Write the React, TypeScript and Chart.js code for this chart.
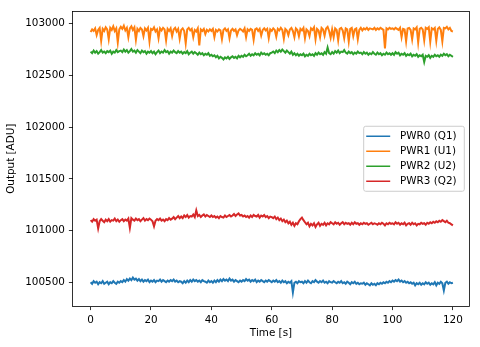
import React, { useEffect, useRef } from "react";
import { Chart, registerables } from "chart.js";

Chart.register(...registerables);

// ---- data ----
const TIME_STEP = 0.5; // seconds between samples, starting at t = 0
const SERIES_LABELS = ["PWR0 (Q1)", "PWR1 (U1)", "PWR2 (U2)", "PWR3 (Q2)"];
const SERIES_COLORS = ["#1f77b4", "#ff7f0e", "#2ca02c", "#d62728"];
const X_TICKS = [0, 20, 40, 60, 80, 100, 120];
const Y_TICKS = [100500, 101000, 101500, 102000, 102500, 103000];
const X_LABEL = "Time [s]";
const Y_LABEL = "Output [ADU]";

const PWR0 = [
  100500, 100485, 100510, 100495, 100505, 100480, 100500, 100490, 100510, 100485, 100495, 100505, 100480, 100500, 100490, 100510, 100495, 100485, 100505, 100495,
  100510, 100500, 100520, 100505, 100530, 100515, 100535, 100520, 100545, 100525, 100535, 100515, 100530, 100510, 100525, 100505, 100520, 100510, 100525, 100500,
  100515, 100505, 100520, 100500, 100515, 100510, 100525, 100505, 100520, 100510, 100500, 100515, 100505, 100520, 100510, 100525, 100505, 100515, 100500, 100510,
  100505, 100490, 100510, 100495, 100515, 100500, 100520, 100505, 100525, 100510, 100520, 100505, 100515, 100500, 100520, 100510, 100505, 100495, 100515, 100500,
  100510, 100495, 100515, 100500, 100520, 100505, 100525, 100510, 100530, 100515, 100525, 100510, 100535, 100515, 100525, 100505, 100520, 100510, 100500, 100515,
  100505, 100520, 100510, 100530, 100515, 100525, 100505, 100520, 100510, 100525, 100500, 100515, 100505, 100520, 100510, 100500, 100515, 100505, 100520, 100510,
  100500, 100515, 100505, 100520, 100500, 100510, 100495, 100515, 100500, 100510, 100490, 100505, 100495, 100510, 100400, 100495, 100505, 100490, 100510, 100500,
  100505, 100490, 100510, 100495, 100515, 100500, 100490, 100510, 100500, 100520, 100505, 100495, 100510, 100500, 100515, 100495, 100505, 100490, 100510, 100500,
  100495, 100510, 100500, 100490, 100505, 100495, 100510, 100490, 100500, 100485, 100505, 100495, 100480, 100500, 100490, 100505, 100485, 100495, 100480, 100490,
  100485, 100495, 100475, 100490, 100480, 100470, 100490, 100475, 100485, 100470, 100490, 100480, 100495, 100485, 100500, 100490, 100505, 100495, 100510, 100500,
  100515, 100505, 100520, 100510, 100525, 100505, 100515, 100500, 100510, 100495, 100505, 100490, 100500, 100485, 100495, 100470, 100490, 100480, 100495, 100475,
  100490, 100480, 100500, 100485, 100495, 100475, 100490, 100480, 100500, 100470, 100495, 100485, 100505, 100490, 100420, 100495, 100505, 100485, 100500, 100490,
  100495,
];

const PWR1 = [
  102920, 102945, 102930, 102955, 102890, 102940, 102960, 102835, 102950, 102930, 102965, 102945, 102850, 102960, 102940, 102975, 102930, 102955, 102820, 102945,
  102970, 102950, 102980, 102935, 102960, 102870, 102955, 102975, 102940, 102965, 102845, 102950, 102930, 102960, 102945, 102880, 102955, 102935, 102960, 102830,
  102950, 102940, 102965, 102925, 102945, 102860, 102955, 102935, 102960, 102945, 102840, 102950, 102930, 102955, 102880, 102945, 102960, 102925, 102950, 102855,
  102940, 102955, 102930, 102810, 102945, 102960, 102935, 102950, 102870, 102940, 102925, 102955, 102790, 102945, 102930, 102950, 102900, 102940, 102925, 102945,
  102930, 102950, 102870, 102940, 102925, 102945, 102935, 102850, 102940, 102955, 102930, 102945, 102860, 102935, 102950, 102930, 102945, 102890, 102935, 102950,
  102940, 102925, 102955, 102870, 102945, 102930, 102950, 102940, 102845, 102945, 102955, 102930, 102950, 102885, 102940, 102955, 102935, 102950, 102860, 102945,
  102930, 102955, 102940, 102875, 102950, 102935, 102960, 102940, 102855, 102950, 102935, 102890, 102945, 102960, 102930, 102870, 102955, 102940, 102880, 102950,
  102935, 102960, 102860, 102945, 102930, 102880, 102955, 102940, 102965, 102850, 102950, 102935, 102870, 102960, 102945, 102885, 102955, 102970, 102930, 102865,
  102945, 102870, 102955, 102940, 102840, 102950, 102960, 102935, 102860, 102955, 102945, 102830, 102950, 102960, 102880, 102945, 102955, 102850, 102940, 102960,
  102935, 102955, 102945, 102960, 102940, 102955, 102950, 102945, 102960, 102940, 102955, 102945, 102960, 102950, 102940, 102760, 102955, 102945, 102960, 102950,
  102955, 102945, 102960, 102950, 102940, 102960, 102870, 102950, 102945, 102830, 102955, 102960, 102940, 102850, 102955, 102945, 102965, 102820, 102950, 102960,
  102945, 102840, 102960, 102950, 102965, 102825, 102955, 102945, 102960, 102835, 102950, 102965, 102940, 102830, 102960, 102955, 102970, 102945, 102960, 102930,
  102925,
];

const PWR2 = [
  102730, 102715, 102740, 102720, 102735, 102710, 102725, 102745, 102720, 102730, 102715, 102735, 102725, 102740, 102710, 102730, 102720, 102745, 102725, 102735,
  102740, 102725, 102750, 102730, 102745, 102720, 102735, 102755, 102730, 102740, 102720, 102745, 102730, 102715, 102740, 102725, 102735, 102710, 102730, 102720,
  102735, 102715, 102730, 102705, 102725, 102740, 102715, 102730, 102720, 102745, 102725, 102735, 102710, 102730, 102720, 102740, 102725, 102715, 102735, 102720,
  102730, 102710, 102725, 102715, 102735, 102705, 102720, 102730, 102710, 102725, 102715, 102700, 102720, 102705, 102715, 102695, 102710, 102700, 102715, 102690,
  102700, 102685, 102695, 102675, 102690, 102665, 102680, 102670, 102655, 102675, 102665, 102680, 102660, 102675, 102685, 102670, 102680, 102665, 102690, 102675,
  102690, 102680, 102700, 102685, 102695, 102710, 102690, 102705, 102695, 102715, 102700, 102710, 102695, 102720, 102705, 102715, 102700, 102710, 102695, 102715,
  102720, 102730, 102715, 102740, 102725, 102745, 102730, 102750, 102735, 102720, 102740, 102725, 102710, 102730, 102700, 102715, 102695, 102710, 102690, 102705,
  102695, 102710, 102685, 102700, 102690, 102710, 102695, 102705, 102690, 102715, 102700, 102720, 102705, 102715, 102700, 102725, 102710, 102770, 102715, 102705,
  102725, 102710, 102735, 102720, 102740, 102715, 102730, 102725, 102745, 102720, 102710, 102730, 102715, 102725, 102705, 102720, 102710, 102730, 102715, 102720,
  102705, 102725, 102710, 102720, 102700, 102715, 102705, 102725, 102710, 102700, 102720, 102705, 102715, 102695, 102710, 102700, 102720, 102705, 102715, 102700,
  102715, 102700, 102725, 102710, 102720, 102695, 102710, 102700, 102715, 102690, 102705, 102695, 102710, 102685, 102700, 102690, 102705, 102680, 102695, 102685,
  102700, 102630, 102690, 102680, 102695, 102670, 102690, 102680, 102700, 102685, 102695, 102680, 102700, 102690, 102710, 102695, 102705, 102685, 102700, 102690,
  102680,
];

const PWR3 = [
  101100, 101085, 101110, 101095, 101105, 101020, 101090, 101110, 101095, 101080, 101105, 101090, 101110, 101085, 101100, 101095, 101115, 101090, 101105, 101085,
  101100, 101110, 101090, 101105, 101095, 101115, 101025, 101120, 101105, 101095, 101115, 101100, 101110, 101090, 101105, 101120, 101095, 101110, 101100, 101115,
  101105, 101090, 101040, 101095, 101110, 101100, 101115, 101095, 101105, 101090, 101110, 101100, 101120, 101105, 101115, 101130, 101110, 101125, 101140, 101120,
  101135, 101120, 101145, 101130, 101150, 101125, 101140, 101135, 101155, 101130, 101195, 101140, 101150, 101130, 101145, 101155, 101135, 101150, 101140, 101130,
  101145, 101130, 101140, 101125, 101135, 101120, 101140, 101130, 101125, 101145, 101130, 101140, 101150, 101135, 101145, 101160, 101140, 101155, 101165, 101145,
  101150, 101135, 101145, 101130, 101140, 101125, 101145, 101130, 101150, 101140, 101135, 101150, 101125, 101145, 101135, 101150, 101130, 101140, 101120, 101135,
  101130, 101120, 101135, 101110, 101125, 101100, 101115, 101090, 101105, 101080, 101095, 101070, 101085, 101055, 101075, 101045, 101070, 101060, 101090, 101110,
  101125, 101100, 101080, 101060, 101075, 101040, 101065, 101050, 101070, 101035, 101060, 101075, 101045, 101065, 101055, 101075, 101050, 101070, 101060, 101080,
  101070, 101060, 101080, 101065, 101075, 101055, 101070, 101080, 101060, 101075, 101065, 101070, 101055, 101075, 101060, 101080, 101065, 101070, 101055, 101070,
  101060, 101075, 101065, 101070, 101055, 101065, 101075, 101060, 101070, 101065, 101055, 101070, 101060, 101075, 101065, 101050, 101070, 101060, 101075, 101065,
  101070, 101060, 101080, 101065, 101075, 101055, 101070, 101060, 101075, 101050, 101065, 101070, 101055, 101075, 101060, 101070, 101050, 101065, 101060, 101075,
  101065, 101070, 101055, 101075, 101065, 101080, 101070, 101085, 101075, 101090, 101080, 101095, 101085, 101100, 101090, 101080, 101095, 101075, 101070, 101060,
  101050,
];

const SERIES = [PWR0, PWR1, PWR2, PWR3];

const FONT_FAMILY = '"DejaVu Sans", "Liberation Sans", sans-serif';
const FONT_SIZE = 10.4;

const frameAndLegend = {
  id: "frameAndLegend",
  afterDraw(chart: any) {
    const { ctx, chartArea: a } = chart;
    ctx.save();
    ctx.strokeStyle = "#000";
    ctx.lineWidth = 0.8;
    const l = Math.floor(a.left) + 0.5;
    const t = Math.floor(a.top) + 0.5;
    const r = Math.floor(a.right) + 0.5;
    const b = Math.floor(a.bottom) + 0.5;
    ctx.strokeRect(l, t, r - l, b - t);

    const w = 100.6;
    const h = 65;
    const right = a.right - 5.2;
    const left = right - w;
    const top = (a.top + a.bottom) / 2 - h / 2;
    const rad = 2;
    ctx.beginPath();
    ctx.moveTo(left + rad, top);
    ctx.lineTo(right - rad, top);
    ctx.arcTo(right, top, right, top + rad, rad);
    ctx.lineTo(right, top + h - rad);
    ctx.arcTo(right, top + h, right - rad, top + h, rad);
    ctx.lineTo(left + rad, top + h);
    ctx.arcTo(left, top + h, left, top + h - rad, rad);
    ctx.lineTo(left, top + rad);
    ctx.arcTo(left, top, left + rad, top, rad);
    ctx.closePath();
    ctx.fillStyle = "rgba(255,255,255,0.8)";
    ctx.fill();
    ctx.strokeStyle = "#cccccc";
    ctx.lineWidth = 1;
    ctx.stroke();

    ctx.font = `${FONT_SIZE}px ${FONT_FAMILY}`;
    ctx.textBaseline = "middle";
    ctx.textAlign = "left";
    chart.data.datasets.forEach((ds: any, i: number) => {
      const y = top + 10 + i * 15;
      ctx.beginPath();
      ctx.strokeStyle = ds.borderColor;
      ctx.lineWidth = 1.5;
      ctx.moveTo(left + 2.5, y);
      ctx.lineTo(left + 26.5, y);
      ctx.stroke();
      ctx.fillStyle = "#000";
      ctx.fillText(ds.label, left + 36.3, y + 0.5);
    });
    ctx.restore();
  },
};

export default function App() {
  const canvasRef = useRef<HTMLCanvasElement | null>(null);

  useEffect(() => {
    if (!canvasRef.current) return;
    const font = { family: FONT_FAMILY, size: FONT_SIZE };
    const chart = new Chart(canvasRef.current, {
      type: "line",
      data: {
        datasets: SERIES.map((vals, i) => ({
          label: SERIES_LABELS[i],
          data: vals.map((v, k) => ({ x: k * TIME_STEP, y: v })),
          borderColor: SERIES_COLORS[i],
          backgroundColor: SERIES_COLORS[i],
          borderWidth: 2,
          pointRadius: 0,
          fill: false,
          tension: 0,
          order: SERIES.length - i,
        })),
      },
      options: {
        animation: false,
        responsive: false,
        maintainAspectRatio: false,
        devicePixelRatio: 1,
        layout: { padding: { left: 0, top: 11, right: 10.5, bottom: 0 } },
        plugins: { legend: { display: false }, tooltip: { enabled: false } },
        scales: {
          x: {
            type: "linear",
            min: -6,
            max: 125.5,
            afterBuildTicks: (s: any) => {
              s.ticks = X_TICKS.map((v) => ({ value: v }));
            },
            ticks: {
              color: "#000",
              font,
              padding: 3.5,
              maxRotation: 0,
              autoSkip: false,
              callback: (v: any) => String(v),
            },
            grid: { drawOnChartArea: false, drawTicks: true, tickLength: 3.6, color: "#000", lineWidth: 0.8 },
            border: { display: false },
            title: { display: true, text: X_LABEL, color: "#000", font, padding: { top: 0, bottom: 7.5 } },
            afterFit: (s: any) => {
              s.height = 40.5;
            },
          },
          y: {
            type: "linear",
            min: 100265,
            max: 103123,
            afterBuildTicks: (s: any) => {
              s.ticks = Y_TICKS.map((v) => ({ value: v }));
            },
            ticks: {
              color: "#000",
              font,
              padding: 4,
              autoSkip: false,
              callback: (v: any) => String(v),
            },
            grid: { drawOnChartArea: false, drawTicks: true, tickLength: 3.6, color: "#000", lineWidth: 0.8 },
            border: { display: false },
            title: { display: true, text: Y_LABEL, color: "#000", font, padding: { top: 5.5, bottom: 0 } },
            afterFit: (s: any) => {
              s.width = 72.5;
            },
          },
        },
      },
      plugins: [frameAndLegend],
    } as any);
    return () => chart.destroy();
  }, []);

  return (
    <div style={{ position: "absolute", left: 0, top: 0, width: 480, height: 347, background: "#fff" }}>
      <canvas ref={canvasRef} width={480} height={347} style={{ width: 480, height: 347, display: "block" }} />
    </div>
  );
}
